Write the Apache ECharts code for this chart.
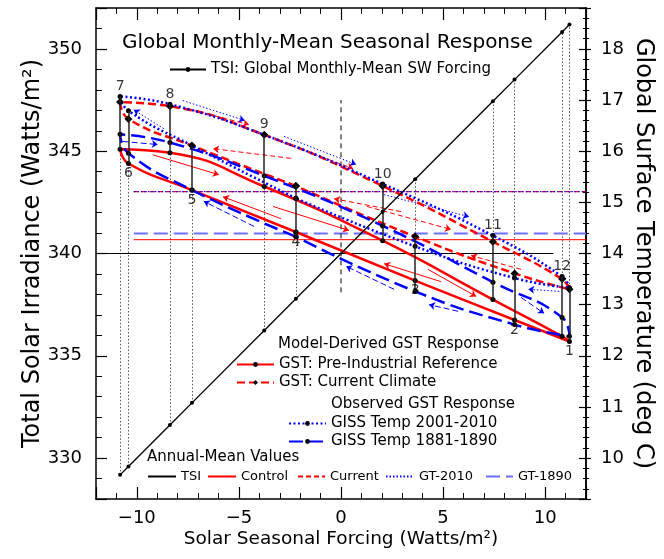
<!DOCTYPE html>
<html>
<head>
<meta charset="utf-8">
<script src="https://cdn.jsdelivr.net/npm/echarts@6/dist/echarts.min.js"></script>
<style>
  html, body { margin: 0; padding: 0; background: #fff; }
  #chart { width: 664px; height: 559px; }
</style>
</head>
<body>
<div id="chart"></div>
<script>
// ---- data ---------------------------------------------------------------
const months = [1, 2, 3, 4, 5, 6, 7, 8, 9, 10, 11, 12];
// solar seasonal forcing, W/m2
const forcing = [11.19, 8.50, 3.63, -2.21, -7.30, -10.41, -10.82, -8.38, -3.76, 2.04, 7.44, 10.83];
// global monthly-mean TSI, W/m2
const tsi = [351.19, 348.50, 343.63, 337.79, 332.70, 329.59, 329.18, 331.62, 336.24, 342.04, 347.44, 350.83];
// global surface temperature, deg C
const gstControl = [12.28, 12.70, 13.47, 14.42, 15.24, 15.76, 16.04, 15.97, 15.31, 14.25, 13.10, 12.38];
const gstCurrent = [13.30, 13.61, 14.33, 15.32, 16.11, 16.63, 16.96, 16.88, 16.32, 15.32, 14.23, 13.50];
const giss2010   = [13.33, 13.52, 14.14, 15.08, 16.11, 16.79, 17.07, 16.92, 16.32, 15.36, 14.35, 13.55];
const giss1890   = [12.38, 12.61, 13.26, 14.33, 15.24, 15.96, 16.33, 16.17, 15.52, 14.54, 13.44, 12.75];
// annual means
const meanTSI = 340.0;
const meanControl = 14.27;
const meanCurrent = 15.21;
const meanGT2010 = 15.21;
const meanGT1890 = 14.39;
// direction arrows along the loops: [F0, T0, F1, T1] (head at F1,T1)
const arrowsGiss2010 = [[-7.75, 16.99, -4.71, 16.60], [-2.79, 16.29, 0.74, 15.74], [2.11, 15.15, 6.27, 14.72],
                        [-8.68, 16.44, -10.15, 16.81], [10.69, 13.26, 9.17, 13.30]];
const arrowsCurrent  = [[-7.35, 16.81, -4.51, 16.52], [-2.84, 16.17, 0.59, 15.66], [1.27, 14.92, 5.39, 14.47],
                        [-2.45, 15.86, -6.27, 16.05], [2.94, 14.82, -0.34, 15.07], [8.82, 13.69, 6.37, 13.96]];
const arrowsControl  = [[-9.22, 15.93, -5.98, 15.54], [-3.33, 14.92, 0.39, 14.45], [4.26, 13.69, 6.62, 13.16],
                        [-2.94, 14.68, -5.78, 15.11], [4.90, 13.45, 2.11, 13.80]];
const arrowsGiss1890 = [[-10.69, 16.19, -8.97, 16.13], [-4.26, 14.53, -6.72, 15.02], [2.60, 13.30, 0.25, 13.75],
                        [5.74, 12.87, 4.31, 13.00], [8.82, 13.14, 9.95, 12.83]];
// dashed marker at zero forcing (W/m2 range)
const zeroMarker = [338.1, 347.5];

// ---- axes: the two vertical scales are tied (14 degC <-> 340 W/m2, 1 degC = 2.5 W/m2)
const TSI_MIN = 328, TSI_MAX = 352;
const TIE_T = 14, TIE_TSI = 340, WM2_PER_DEG = 2.5;
const T_MIN = TIE_T + (TSI_MIN - TIE_TSI) / WM2_PER_DEG;
const T_MAX = TIE_T + (TSI_MAX - TIE_TSI) / WM2_PER_DEG;
const tToTsi = (t) => TIE_TSI + (t - TIE_T) * WM2_PER_DEG;

const FONT = 'DejaVu Sans';
const RED = '#ff0000', BLUE = '#0000ff';
const minus = (v) => (v < 0 ? '\u2212' + (-v) : '' + v);

// closed loop, started in April so the joint sits on a straight stretch
function loop(vals) {
  const order = [3, 4, 5, 6, 7, 8, 9, 10, 11, 0, 1, 2, 3];
  return order.map((i) => [forcing[i], vals[i]]);
}
const allGst = [gstControl, gstCurrent, giss2010, giss1890];
const lo = months.map((m, i) => Math.min(...allGst.map((a) => a[i])));
const hi = months.map((m, i) => Math.max(...allGst.map((a) => a[i])));

// solid month connectors (temperature axis)
const connectors = months.map((m, i) => ({ coords: [[forcing[i], lo[i]], [forcing[i], hi[i]]] }));
// dotted drop lines from TSI point to the nearest loop point (TSI axis)
const drops = [];
months.forEach((m, i) => {
  const a = tToTsi(lo[i]), b = tToTsi(hi[i]);
  if (tsi[i] < a) drops.push({ coords: [[forcing[i], tsi[i]], [forcing[i], a]] });
  else if (tsi[i] > b) drops.push({ coords: [[forcing[i], b], [forcing[i], tsi[i]]] });
});
// month numbers: above the top point for Jul-Dec, below the control point for Jan-Jun
const monthLabels = months.map((m, i) => ({
  value: [forcing[i], i >= 6 ? hi[i] : gstControl[i]],
  label: { position: i >= 6 ? 'top' : 'bottom' },
}));
const tsiLine = forcing.map((f, i) => [f, tsi[i]]).sort((p, q) => p[0] - q[0]);

function arrows(name, list, color, type) {
  return {
    name, type: 'lines', coordinateSystem: 'cartesian2d', yAxisIndex: 1, z: 2,
    symbol: ['none', 'arrow'], symbolSize: 6, silent: true,
    lineStyle: { color, width: 1, type, opacity: 1 },
    data: list.map((a) => ({ coords: [[a[0], a[1]], [a[2], a[3]]] })),
  };
}
// annual-mean reference line (no symbol, also hidden in the legend icon)
function annual(name, yAxisIndex, data, lineStyle) {
  return { name, type: 'line', yAxisIndex, symbol: 'none', z: 1, silent: true,
           itemStyle: { color: lineStyle.color, opacity: 0 }, lineStyle, data };
}
function oneLegend(name, left, top, itemWidth, fontSize) {
  return { data: [name], left, top, itemWidth, itemHeight: 6, padding: 0, selectedMode: false,
           textStyle: { fontSize, color: '#000', fontFamily: FONT } };
}

const chart = echarts.init(document.getElementById('chart'));

const axisLine = { show: true, onZero: false, lineStyle: { color: '#000', width: 1.5 } };
const label = { color: '#000', fontSize: 18, fontFamily: FONT };

chart.setOption({
  animation: false,
  textStyle: { fontFamily: FONT, color: '#000' },
  grid: { left: 96, right: 78, top: 8, bottom: 60 },
  title: {
    text: 'Global Monthly-Mean Seasonal Response', left: 122, top: 33, padding: 0,
    textStyle: { fontSize: 20, fontWeight: 'normal', fontFamily: FONT, color: '#000' },
  },
  legend: [
    oneLegend('TSI: Global Monthly-Mean SW Forcing', 169, 62, 36, 15),
    { data: ['GST: Pre-Industrial Reference', 'GST: Current Climate'], orient: 'vertical', left: 236, top: 357,
      itemWidth: 37, itemHeight: 6, itemGap: 3, padding: 0, selectedMode: false,
      textStyle: { fontSize: 15, color: '#000', fontFamily: FONT } },
    { data: ['GISS Temp 2001-2010', 'GISS Temp 1881-1890'], orient: 'vertical', left: 288, top: 416,
      itemWidth: 37, itemHeight: 6, itemGap: 3, padding: 0, selectedMode: false,
      textStyle: { fontSize: 15, color: '#000', fontFamily: FONT } },
    oneLegend('TSI', 147, 470, 28, 13),
    oneLegend('Control', 207, 470, 28, 13),
    oneLegend('Current', 297, 470, 27, 13),
    oneLegend('GT-2010', 385, 470, 28, 13),
    oneLegend('GT-1890', 485, 470, 27, 13),
  ],
  graphic: [
    { type: 'text', left: 278, top: 337, style: { text: 'Model-Derived GST Response', font: '15px "DejaVu Sans"', fill: '#000' } },
    { type: 'text', left: 331, top: 397, style: { text: 'Observed GST Response', font: '15px "DejaVu Sans"', fill: '#000' } },
    { type: 'text', left: 147, top: 450, style: { text: 'Annual-Mean Values', font: '15px "DejaVu Sans"', fill: '#000' } },
  ],
  xAxis: [
    { type: 'value', position: 'bottom', min: -12, max: 12, splitNumber: 5,
      axisLine, splitLine: { show: false },
      axisTick: { inside: true, length: 12, lineStyle: { color: '#000', width: 1.2 } },
      minorTick: { show: true, splitNumber: 5, length: 6, lineStyle: { color: '#000', width: 1 } },
      axisLabel: { ...label, margin: 10, showMinLabel: false, showMaxLabel: false, formatter: minus },
      name: 'Solar Seasonal Forcing (Watts/m\u00b2)', nameLocation: 'middle', nameGap: 31, nameMoveOverlap: false,
      nameTextStyle: { fontSize: 18.5, color: '#000', fontFamily: FONT } },
    { type: 'value', position: 'top', min: -12, max: 12, splitNumber: 5,
      axisLine, splitLine: { show: false }, axisLabel: { show: false },
      axisTick: { inside: true, length: 12, lineStyle: { color: '#000', width: 1.2 } },
      minorTick: { show: true, splitNumber: 5, length: 6, lineStyle: { color: '#000', width: 1 } } },
  ],
  yAxis: [
    { type: 'value', position: 'left', min: TSI_MIN, max: TSI_MAX, splitNumber: 5,
      axisLine, splitLine: { show: false },
      axisTick: { inside: true, length: 11, lineStyle: { color: '#000', width: 1.2 } },
      minorTick: { show: true, splitNumber: 5, length: 6, lineStyle: { color: '#000', width: 1 } },
      axisLabel: { ...label, margin: 14, showMinLabel: false, showMaxLabel: false },
      name: 'Total Solar Irradiance (Watts/m\u00b2)', nameLocation: 'middle', nameRotate: 90, nameGap: 51,
      nameMoveOverlap: false,
      nameTextStyle: { fontSize: 24, color: '#000', fontFamily: FONT } },
    { type: 'value', position: 'right', min: T_MIN, max: T_MAX, splitNumber: 10,
      axisLine, splitLine: { show: false },
      axisTick: { inside: false, length: 5, lineStyle: { color: '#000', width: 1.2 } },
      minorTick: { show: true, splitNumber: 5, length: 3, lineStyle: { color: '#000', width: 1 } },
      axisLabel: { ...label, margin: 15, showMinLabel: false, showMaxLabel: false },
      name: 'Global Surface Temperature (deg C)', nameLocation: 'middle', nameRotate: -90, nameGap: 45,
      nameMoveOverlap: false,
      nameTextStyle: { fontSize: 24, color: '#000', fontFamily: FONT } },
    { type: 'value', position: 'right', min: T_MIN, max: T_MAX, splitNumber: 10,
      axisLine, splitLine: { show: false }, axisLabel: { show: false },
      axisTick: { inside: true, length: 7, lineStyle: { color: '#000', width: 1.2 } },
      minorTick: { show: true, splitNumber: 5, length: 3, lineStyle: { color: '#000', width: 1 } } },
  ],
  series: [
    // annual means
    annual('TSI', 0, [[-12, meanTSI], [10.4, meanTSI]], { color: '#000', width: 1 }),
    annual('Control', 1, [[-10.15, meanControl], [12, meanControl]], { color: RED, width: 1 }),
    annual('Current', 1, [[-10.15, meanCurrent], [12, meanCurrent]], { color: RED, width: 1.2, type: [5, 3] }),
    annual('GT-2010', 1, [[-10.15, meanGT2010], [12, meanGT2010]], { color: BLUE, width: 1.2, type: [1.5, 2] }),
    annual('GT-1890', 1, [[-10.15, meanGT1890], [12, meanGT1890]], { color: '#6f6fff', width: 2, type: [14, 6] }),
    // zero-forcing marker
    { name: 'zero', type: 'line', yAxisIndex: 0, symbol: 'none', z: 1, silent: true,
      lineStyle: { color: '#000', width: 1, type: [5, 4] }, data: [[0, zeroMarker[0]], [0, zeroMarker[1]]] },
    // dotted drops
    { name: 'drops', type: 'lines', coordinateSystem: 'cartesian2d', yAxisIndex: 0, z: 1, silent: true,
      lineStyle: { color: '#555', width: 1, type: [1.5, 2], opacity: 1 }, data: drops },
    arrows('arrows2010', arrowsGiss2010, BLUE, [1.5, 2]),
    arrows('arrowsCurrent', arrowsCurrent, RED, [5, 3]),
    arrows('arrowsControl', arrowsControl, RED, 'solid'),
    arrows('arrows1890', arrowsGiss1890, BLUE, [6, 3]),
    // seasonal loops
    { name: 'GST: Pre-Industrial Reference', type: 'line', yAxisIndex: 1, smooth: true, z: 3,
      symbol: 'circle', symbolSize: 5, itemStyle: { color: '#000' },
      lineStyle: { color: RED, width: 2.5 }, data: loop(gstControl) },
    { name: 'GST: Current Climate', type: 'line', yAxisIndex: 1, smooth: true, z: 3,
      symbol: 'diamond', symbolSize: 8, itemStyle: { color: '#000' },
      lineStyle: { color: RED, width: 2.5, type: [8, 4] }, data: loop(gstCurrent) },
    { name: 'GISS Temp 2001-2010', type: 'line', yAxisIndex: 1, smooth: true, z: 3,
      symbol: 'circle', symbolSize: 5, itemStyle: { color: '#000' },
      lineStyle: { color: BLUE, width: 2.5, type: [2, 2.5] }, data: loop(giss2010) },
    { name: 'GISS Temp 1881-1890', type: 'line', yAxisIndex: 1, smooth: true, z: 3,
      symbol: 'circle', symbolSize: 5, itemStyle: { color: '#000' },
      lineStyle: { color: BLUE, width: 2.5, type: [14, 6] }, data: loop(giss1890) },
    // month connectors
    { name: 'connectors', type: 'lines', coordinateSystem: 'cartesian2d', yAxisIndex: 1, z: 4, silent: true,
      lineStyle: { color: '#222', width: 1.5, opacity: 1 }, data: connectors },
    // TSI forcing line
    { name: 'TSI: Global Monthly-Mean SW Forcing', type: 'line', yAxisIndex: 0, z: 5,
      symbol: 'circle', symbolSize: 4, itemStyle: { color: '#000' },
      lineStyle: { color: '#000', width: 1.3 }, data: tsiLine },
    // month numbers
    { name: 'months', type: 'scatter', yAxisIndex: 1, symbolSize: 0, z: 6, silent: true,
      label: { show: true, distance: 3, fontSize: 14, color: '#000', fontFamily: FONT,
               formatter: (p) => '' + months[p.dataIndex] },
      data: monthLabels },
  ],
});
</script>
</body>
</html>
